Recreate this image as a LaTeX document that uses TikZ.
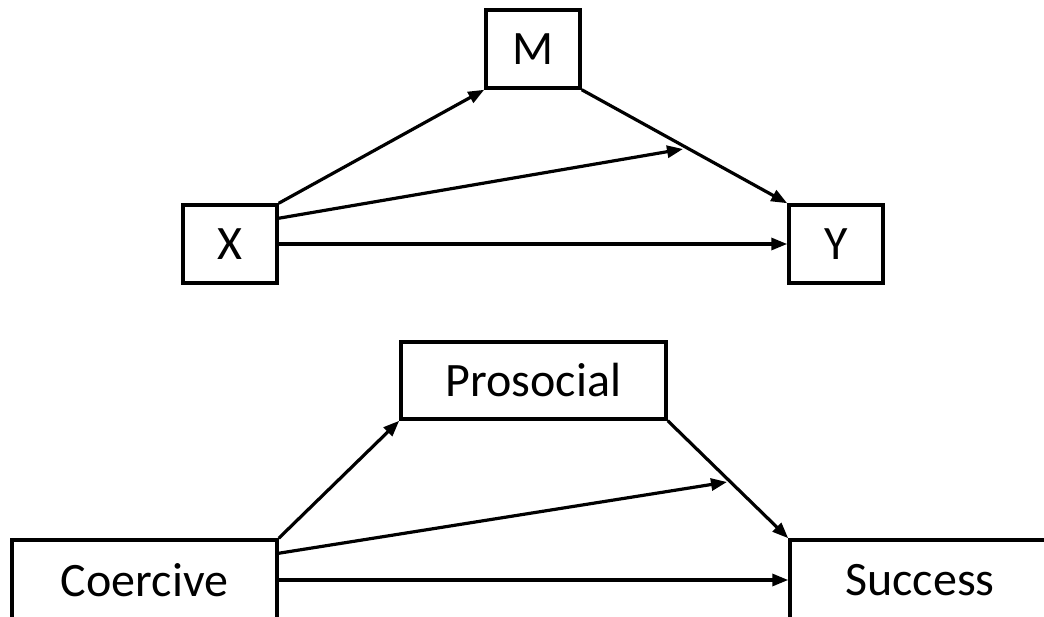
\documentclass[tikz,border=0pt]{standalone}
\usepackage{fontspec}
\setmainfont{Carlito}
\usetikzlibrary{arrows.meta,calc}
\begin{document}
\begin{tikzpicture}[x=1pt,y=-1pt,
  box/.style={draw,line width=3.5pt,inner sep=0pt,font=\fontsize{48}{48}\selectfont},
  conn/.style={line width=3.2pt,-{Triangle[length=16pt,width=12pt]}}]
\useasboundingbox (0,0) rectangle (1044,617);
% top model
\node[box,minimum width=94pt,minimum height=78pt] (M) at (533,49) {M};
\node[box,minimum width=94pt,minimum height=78pt] (X) at (230,244) {X};
\node[box,minimum width=94pt,minimum height=78pt] (Y) at (836,244) {Y};
\coordinate (xmtip) at (683,149);
\draw[conn] (X.north east) -- (M.south west);
\draw[conn] ($(X.north east)+(0,15)$) -- (xmtip);
\draw[conn] (M.south east) -- (Y.north west);
\draw[conn] (X.east) -- (Y.west);
% bottom model
\node[box,minimum width=265pt,minimum height=77pt] (P) at (533.5,380.5) {Prosocial};
\node[box,minimum width=265pt,minimum height=80pt] (C) at (144.5,580) {Coercive};
\node[box,minimum width=260pt,minimum height=80pt] (S) at (920,580) {Success};
\coordinate (cstip) at (727,482);
\draw[conn] (C.north east) -- (P.south west);
\draw[conn] ($(C.north east)+(0,15)$) -- (cstip);
\draw[conn] (P.south east) -- (S.north west);
\draw[conn] (C.east) -- (S.west);
\end{tikzpicture}
\end{document}
